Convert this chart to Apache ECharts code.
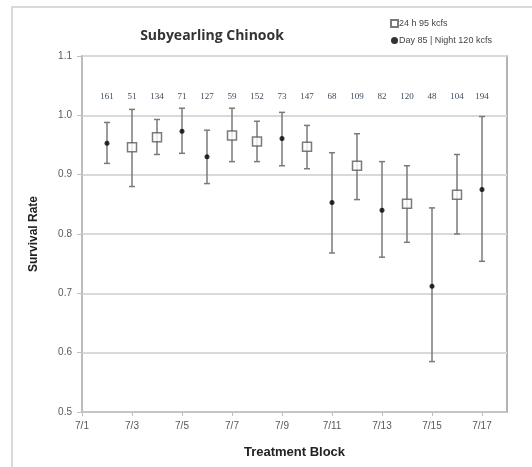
<!DOCTYPE html>
<html>
<head>
<meta charset="utf-8">
<script src="https://cdn.jsdelivr.net/npm/echarts@6/dist/echarts.min.js"></script>
<style>html,body{margin:0;padding:0;background:#fff}#c{width:532px;height:467px}</style>
</head>
<body>
<div id="c"></div>
<script>
const categories = ['7/1','7/2','7/3','7/4','7/5','7/6','7/7','7/8','7/9','7/10','7/11','7/12','7/13','7/14','7/15','7/16','7/17','7/18'];
const yTicks = [0.5, 0.6, 0.7, 0.8, 0.9, 1.0, 1.1];

const sqDates = ['7/3','7/4','7/7','7/8','7/10','7/12','7/14','7/16'];
const sqMean  = [0.946, 0.963, 0.966, 0.956, 0.947, 0.915, 0.851, 0.866];
const sqLow   = [0.880, 0.934, 0.922, 0.922, 0.910, 0.858, 0.786, 0.800];
const sqHigh  = [1.010, 0.993, 1.012, 0.990, 0.983, 0.969, 0.915, 0.934];

const dotDates = ['7/2','7/5','7/6','7/9','7/11','7/13','7/15','7/17'];
const dotMean  = [0.953, 0.973, 0.930, 0.961, 0.853, 0.840, 0.712, 0.875];
const dotLow   = [0.919, 0.936, 0.885, 0.915, 0.768, 0.761, 0.585, 0.754];
const dotHigh  = [0.988, 1.012, 0.975, 1.005, 0.937, 0.922, 0.844, 0.998];

const countDates = ['7/2','7/3','7/4','7/5','7/6','7/7','7/8','7/9','7/10','7/11','7/12','7/13','7/14','7/15','7/16','7/17'];
const counts = [161, 51, 134, 71, 127, 59, 152, 73, 147, 68, 109, 82, 120, 48, 104, 194];

const seriesNames = ['24 h 95 kcfs', 'Day 85 | Night 120 kcfs'];
const titleText = 'Subyearling Chinook';

const yMin = yTicks[0], yMax = yTicks[yTicks.length - 1];

function errData(dates, lo, hi) { return dates.map((d, i) => [d, lo[i], hi[i]]); }
function errRender(params, api) {
  const x = api.value(0);
  const a = api.coord([x, api.value(1)]);
  const b = api.coord([x, api.value(2)]);
  const w = 3;
  const st = { stroke: '#7a7a7a', lineWidth: 1.5 };
  return { type: 'group', children: [
    { type: 'line', shape: { x1: a[0], y1: a[1], x2: b[0], y2: b[1] }, style: st },
    { type: 'line', shape: { x1: a[0]-w, y1: a[1], x2: a[0]+w, y2: a[1] }, style: st },
    { type: 'line', shape: { x1: b[0]-w, y1: b[1], x2: b[0]+w, y2: b[1] }, style: st }
  ]};
}

const chart = echarts.init(document.getElementById('c'), null, { renderer: 'canvas' });
chart.setOption({
  animation: false,
  backgroundColor: '#fff',
  title: { text: titleText, left: 207, top: 24, textAlign: 'center',
    textStyle: { fontFamily: 'Open Sans', fontWeight: 'bold', fontSize: 14, color: '#333' } },
  legend: {
    orient: 'vertical', left: 385, top: 14, itemWidth: 7, itemHeight: 7, itemGap: 8, selectedMode: false,
    data: seriesNames, textStyle: { fontFamily: 'Liberation Sans', fontSize: 9, color: '#444', padding: [0,0,0,-4] }
  },
  graphic: [
    { type: 'rect', silent: true, shape: { x: 12, y: 7, width: 540, height: 480 }, style: { fill: 'none', stroke: '#d9d9d9', lineWidth: 2 }, z: -1 }
  ],
  grid: { left: 82, right: 25, top: 56, bottom: 55, show: true, borderColor: '#9a9a9a', borderWidth: 1.5 },
  xAxis: {
    type: 'category', data: categories, boundaryGap: false,
    name: 'Treatment Block', nameLocation: 'middle', nameGap: 34,
    nameTextStyle: { fontFamily: 'Liberation Sans', fontWeight: 'bold', fontSize: 13, color: '#222' },
    axisLine: { lineStyle: { color: '#bfbfbf', width: 1.5 } },
    axisTick: { show: true, length: 4, inside: false, interval: (i) => i % 2 === 0 && i < categories.length - 1, lineStyle: { color: '#bfbfbf' } },
    axisLabel: { interval: (i) => i % 2 === 0 && i < categories.length - 1, fontFamily: 'Liberation Sans', fontSize: 10, color: '#595959', margin: 9 },
    splitLine: { show: false }
  },
  yAxis: {
    type: 'value', min: yMin, max: yMax, interval: 0.1,
    name: 'Survival Rate', nameLocation: 'middle', nameGap: 42,
    nameTextStyle: { fontFamily: 'Liberation Sans', fontWeight: 'bold', fontSize: 12, color: '#222' },
    axisLine: { show: true, lineStyle: { color: '#bfbfbf', width: 1.5 } },
    axisTick: { show: true, length: 5, lineStyle: { color: '#bfbfbf' } },
    axisLabel: { formatter: (v) => v.toFixed(1), fontFamily: 'Liberation Sans', fontSize: 10, color: '#595959', margin: 10 },
    splitLine: { show: true, lineStyle: { color: '#d9d9d9', width: 2 } }
  },
  series: [
    { type: 'custom', name: 'err1', silent: true, renderItem: errRender, data: errData(sqDates, sqLow, sqHigh), encode: { x: 0, y: [1, 2] }, z: 2 },
    { type: 'custom', name: 'err2', silent: true, renderItem: errRender, data: errData(dotDates, dotLow, dotHigh), encode: { x: 0, y: [1, 2] }, z: 2 },
    { type: 'custom', name: 'counts', silent: true, data: countDates.map((d, i) => [d, counts[i]]), encode: { x: 0 },
      renderItem: (params, api) => {
        const p = api.coord([api.value(0), yMax]);
        return { type: 'text', x: p[0], y: p[1] + 41,
          style: { text: String(api.value(1)), fill: '#3d4a5c', font: '9px "Liberation Serif"', textAlign: 'center', textVerticalAlign: 'middle' } };
      }, z: 3 },
    { type: 'scatter', name: seriesNames[0], silent: true, data: sqDates.map((d, i) => [d, sqMean[i]]),
      symbol: 'rect', symbolSize: 9, itemStyle: { color: '#fff', borderColor: '#5a5a5a', borderWidth: 1.5 }, z: 5 },
    { type: 'scatter', name: seriesNames[1], silent: true, data: dotDates.map((d, i) => [d, dotMean[i]]),
      symbol: 'circle', symbolSize: 5, itemStyle: { color: '#000' }, z: 5 }
  ]
});
</script>
</body>
</html>
